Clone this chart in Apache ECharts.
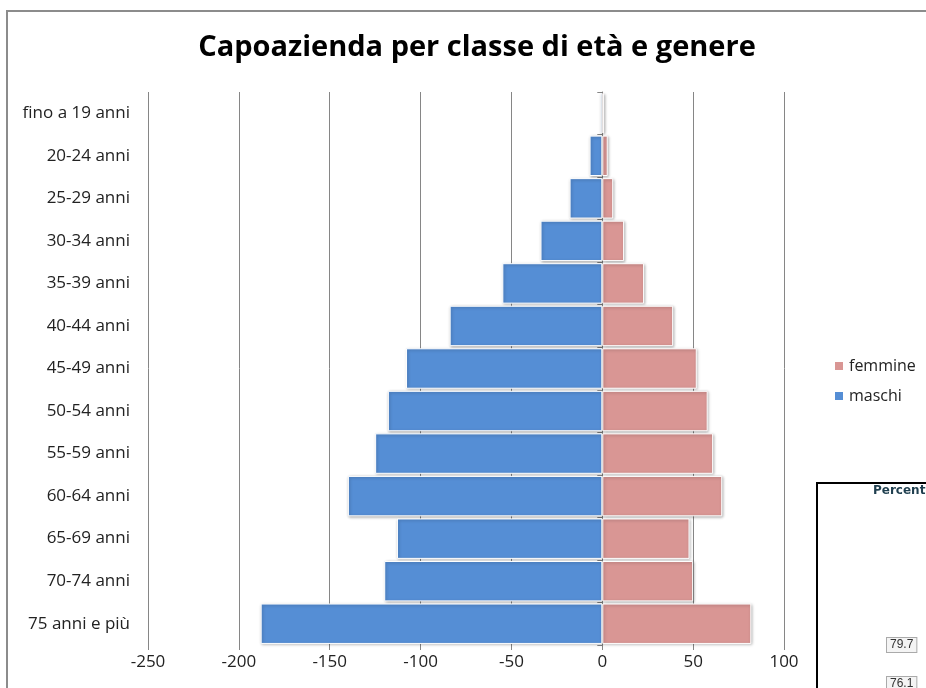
<!DOCTYPE html>
<html>
<head>
<meta charset="utf-8">
<script src="https://cdn.jsdelivr.net/npm/echarts@6/dist/echarts.min.js"></script>
<style>
  html, body { margin: 0; padding: 0; background: #fff; }
  #chart { width: 926px; height: 688px; }
</style>
</head>
<body>
<div id="chart"></div>
<script>
// classi di età (dall'alto in basso)
const ageClasses = ['fino a 19 anni', '20-24 anni', '25-29 anni', '30-34 anni', '35-39 anni',
  '40-44 anni', '45-49 anni', '50-54 anni', '55-59 anni', '60-64 anni', '65-69 anni',
  '70-74 anni', '75 anni e più']
// maschi come valori negativi
const maschi = [-1, -7, -18, -34, -55, -84, -108, -118, -125, -140, -113, -120, -188]
const femmine = [1, 3, 6, 12, 23, 39, 52, 58, 61, 66, 48, 50, 82]
const xTicks = { min: -250, max: 100, interval: 50 }

const FONT = '"Open Sans", Lato, sans-serif'

const chart = echarts.init(document.getElementById('chart'))

const barStyle = (color) => ({
  color: color,
  borderColor: '#fff',
  borderWidth: 1,
  shadowBlur: 3,
  shadowOffsetX: 1,
  shadowOffsetY: 1,
  shadowColor: 'rgba(0,0,0,0.3)'
})

chart.setOption({
  animation: false,
  textStyle: { fontFamily: FONT },
  title: {
    text: 'Capoazienda per classe di età e genere',
    left: 472,
    top: 28,
    textAlign: 'center',
    textStyle: { fontSize: 29, fontWeight: 'bold', color: '#000', fontFamily: FONT }
  },
  legend: {
    orient: 'vertical',
    left: 828,
    top: 353,
    itemWidth: 10,
    itemHeight: 10,
    itemGap: 14,
    icon: 'rect',
    data: ['femmine', 'maschi'],
    textStyle: { fontSize: 16, color: '#222', fontFamily: FONT }
  },
  grid: { left: 148, right: 142, top: 92, bottom: 43 },
  xAxis: {
    type: 'value',
    min: xTicks.min,
    max: xTicks.max,
    interval: xTicks.interval,
    axisLine: { onZero: false, lineStyle: { color: '#868686' } },
    axisTick: { show: true, length: 5, lineStyle: { color: '#868686' } },
    axisLabel: { fontSize: 17, color: '#222', margin: 9 },
    splitLine: { lineStyle: { color: '#868686', width: 1 } }
  },
  yAxis: [
    {
      type: 'category',
      data: ageClasses,
      inverse: true,
      axisLine: { onZero: true, lineStyle: { color: '#868686' } },
      axisTick: { show: true, length: 5, lineStyle: { color: '#868686' } },
      axisLabel: { show: false }
    },
    {
      type: 'category',
      data: ageClasses,
      inverse: true,
      position: 'left',
      axisLine: { show: false },
      axisTick: { show: false },
      axisLabel: { fontSize: 17, color: '#222', margin: 18 }
    }
  ],
  series: [
    {
      name: 'maschi',
      type: 'bar',
      stack: 'tot',
      yAxisIndex: 0,
      barCategoryGap: '5%',
      data: maschi,
      itemStyle: barStyle('#558ED5')
    },
    {
      name: 'femmine',
      type: 'bar',
      stack: 'tot',
      yAxisIndex: 0,
      barCategoryGap: '5%',
      data: femmine,
      itemStyle: barStyle('#D99694')
    }
  ],
  graphic: [
    // cornice esterna
    {
      type: 'rect',
      shape: { x: 7, y: 11, width: 940, height: 700 },
      style: { fill: null, stroke: '#8c8c8c', lineWidth: 2 },
      silent: true
    },
    // riquadro di un altro grafico sovrapposto
    {
      type: 'rect',
      shape: { x: 817, y: 483, width: 130, height: 220 },
      style: { fill: '#fff', stroke: '#000', lineWidth: 2 },
      silent: true
    },
    {
      type: 'text',
      left: 873,
      top: 485,
      style: { text: 'Percent', fontSize: 12, fontWeight: 'bold', fill: '#1f3f4f', fontFamily: 'DejaVu Sans, sans-serif' },
      silent: true
    },
    {
      type: 'text',
      left: 886,
      top: 637,
      style: { text: '79.7', fontSize: 12, fill: '#333', backgroundColor: '#f4f4f4', borderColor: '#aaa', borderWidth: 1, padding: [1, 3] },
      silent: true
    },
    {
      type: 'text',
      left: 886,
      top: 676,
      style: { text: '76.1', fontSize: 12, fill: '#333', backgroundColor: '#f4f4f4', borderColor: '#aaa', borderWidth: 1, padding: [1, 3] },
      silent: true
    }
  ]
})
</script>
</body>
</html>
